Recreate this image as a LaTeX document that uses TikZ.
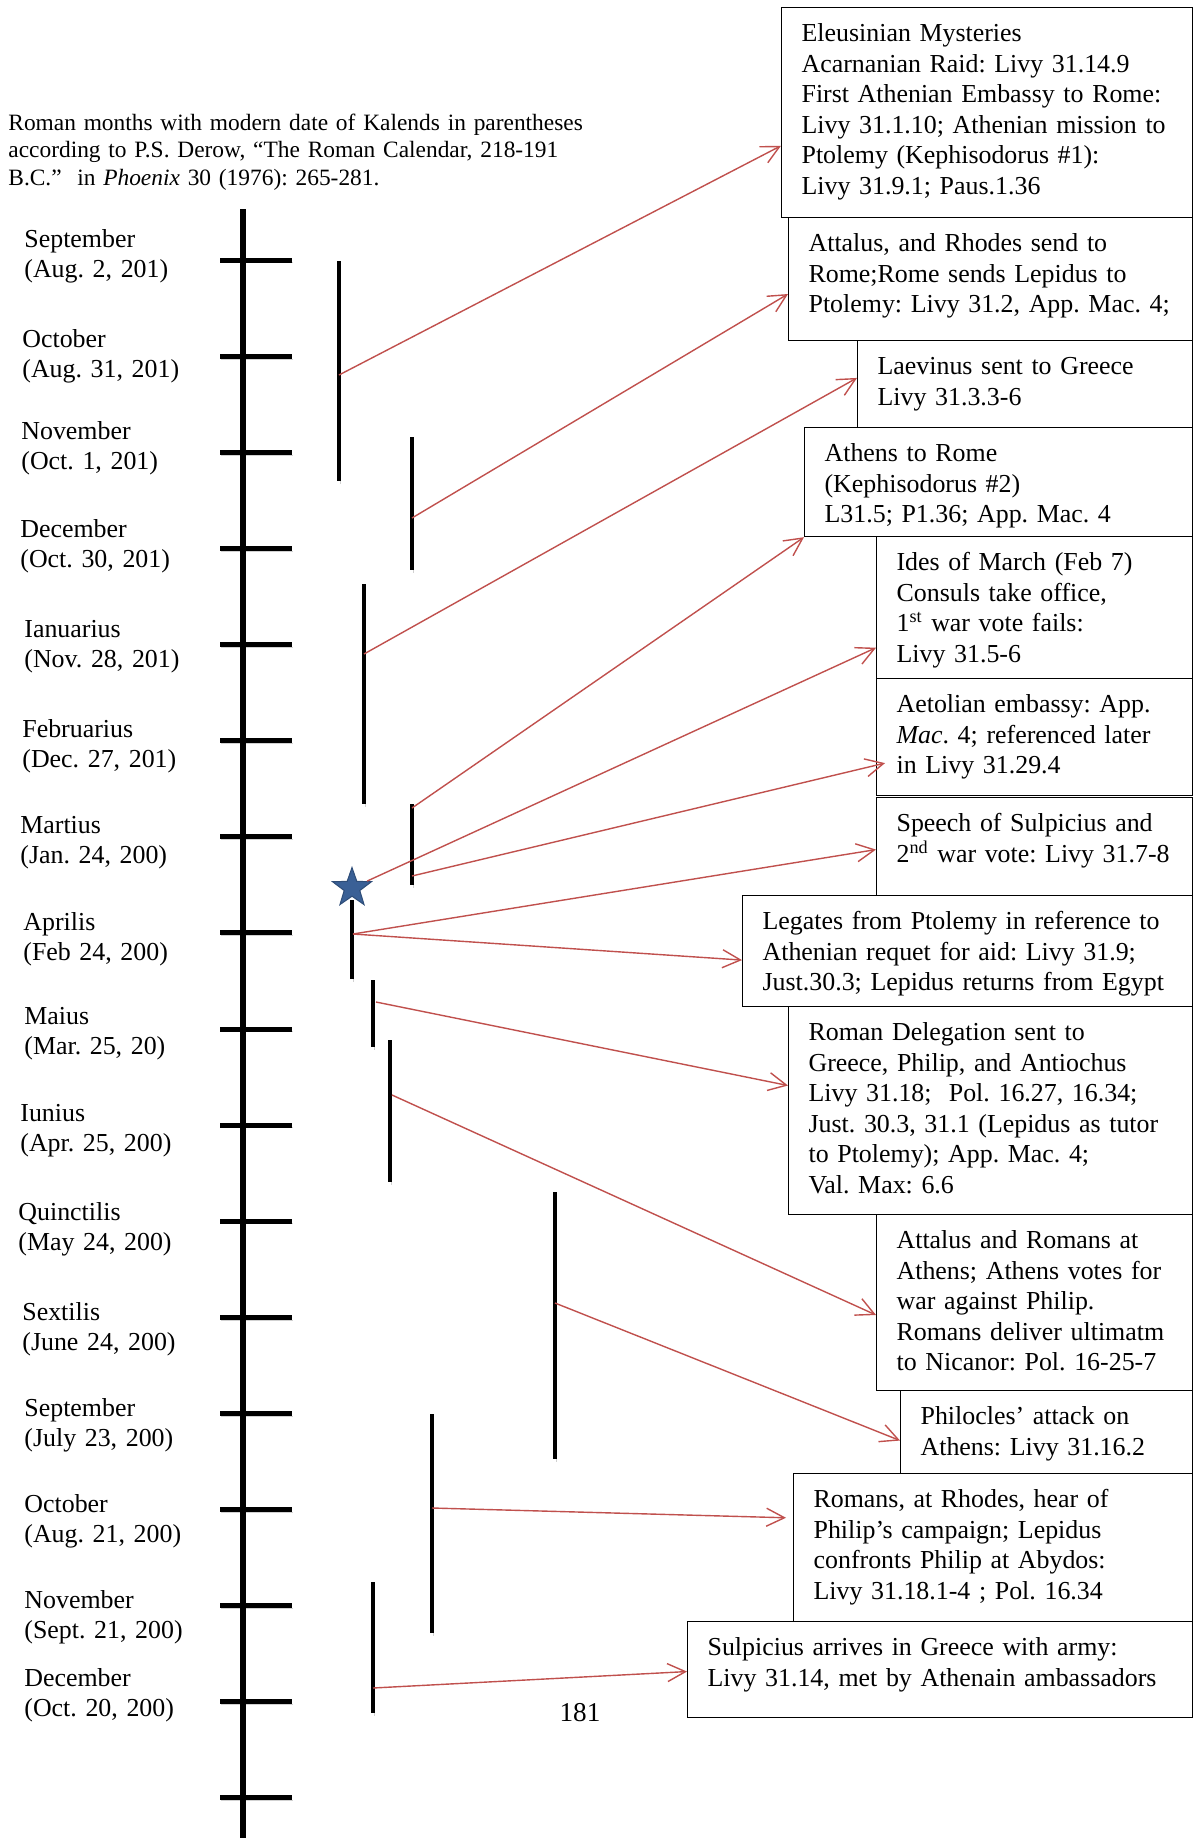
\documentclass[tikz,border=0pt]{standalone}
\usepackage{fontspec}
\setmainfont{Liberation Serif}
\usepackage{tikz}
\usetikzlibrary{calc}
\usetikzlibrary{arrows.meta}
\usetikzlibrary{shapes.geometric}
\frenchspacing

\definecolor{linkred}{RGB}{192,80,77}
\definecolor{starblue}{RGB}{58,96,150}
\newcommand{\evfont}{\fontsize{12.95}{15.25}\selectfont}
\newcommand{\notefont}{\fontsize{11.7}{13.75}\selectfont}

\tikzset{
  softshadow/.style={preaction={draw=black!18, transform canvas={shift={(0.6pt,-1.3pt)}}}},
  axisline/.style={line width=2.7pt},
  tickmark/.style={line width=2.5pt, softshadow},
  evbar/.style={line width=2.3pt, softshadow},
  evlink/.style={draw=linkred, line width=0.7pt, -{Straight Barb[length=9pt,width=9pt]}},
  evbox/.style 2 args={draw, line width=0.6pt, anchor=north west, align=left,
    inner xsep=10pt, inner ysep=0pt, text width=#1, text height=17pt, text depth=#2, font=\evfont},
  monthlbl/.style={anchor=north west, align=left, inner sep=0pt, text width=100pt,
    text height=9pt, font=\evfont},
  notelbl/.style={anchor=north west, align=left, inner sep=0pt, text width=300pt,
    text height=9pt, font=\notefont}
}

\begin{document}
\begin{tikzpicture}[x=0.5pt,y=-0.5pt]
\useasboundingbox (0,0) rectangle (1193,1838);

\node[notelbl] (note) at (8,112) {Roman months with modern date of Kalends in parentheses\\according to P.S. Derow, “The Roman Calendar, 218-191\\B.C.” \ in \textit{Phoenix} 30 (1976): 265-281.};

% time line
\foreach \k in {0,...,16}
  \draw[tickmark] (220,{260.2+96.1*\k}) -- (292,{260.2+96.1*\k});
\draw[axisline] (243,209) -- (243,1838);

\foreach \x/\y/\mon/\kal [count=\i] in {24/247/September/{(Aug. 2, 201)},
    22/347/October/{(Aug. 31, 201)}, 21/439/November/{(Oct. 1, 201)},
    20/537/December/{(Oct. 30, 201)}, 24/637/Ianuarius/{(Nov. 28, 201)},
    22/737/Februarius/{(Dec. 27, 201)}, 20/833/Martius/{(Jan. 24, 200)},
    23/930/Aprilis/{(Feb 24, 200)}, 24/1024/Maius/{(Mar. 25, 20)},
    20/1121/Iunius/{(Apr. 25, 200)}, 18/1220/Quinctilis/{(May 24, 200)},
    22/1320/Sextilis/{(June 24, 200)}, 24/1416/September/{(July 23, 200)},
    24/1512/October/{(Aug. 21, 200)}, 24/1608/November/{(Sept. 21, 200)},
    24/1686/December/{(Oct. 20, 200)}}
  \node[monthlbl] (m\i) at (\x,{\y-18}) {\mon\\\kal};

% events
\draw[evbar] (339,261) -- (339,481);
\draw[evbar] (412,437) -- (412,570);
\draw[evbar] (364,584) -- (364,804);
\draw[evbar] (412,804) -- (412,885);
\draw[evbar] (352,900) -- (352,979);
\draw[evbar] (373,980) -- (373,1047);
\draw[evbar] (390,1040) -- (390,1182);
\draw[evbar] (555,1192) -- (555,1459);
\draw[evbar] (432,1414) -- (432,1633);
\draw[evbar] (373,1582) -- (373,1713);

\coordinate (s1) at (339,375);
\coordinate (s2) at (412,518);
\coordinate (s3) at (364,654);
\coordinate (s4) at (412,808);
\coordinate (s6) at (412,876);
\coordinate (s7) at (353,934);
\coordinate (s9) at (376,1002);
\coordinate (s10) at (392,1095);
\coordinate (s11) at (555,1303);
\coordinate (s12) at (432,1508);
\coordinate (s13) at (373,1688);

\node[star, star points=5, star point ratio=2.5, minimum size=20.5pt, inner sep=0pt,
  fill=starblue, draw=starblue!80!black, line width=0.5pt] (star) at (352,888) {};

\node[evbox={185.5pt}{88pt}] (b1) at (781,7) {Eleusinian Mysteries\\Acarnanian Raid: Livy 31.14.9\\First Athenian Embassy to Rome:\\Livy 31.1.10; Athenian mission to\\Ptolemy (Kephisodorus \#1):\\Livy 31.9.1; Paus.1.36};
\node[evbox={182pt}{44.5pt}] (b2) at (788,217) {Attalus, and Rhodes send to\\Rome;Rome sends Lepidus to\\Ptolemy: Livy 31.2, App. Mac. 4;};
\node[evbox={147.5pt}{26.5pt}] (b3) at (857,340) {Laevinus sent to Greece\\Livy 31.3.3-6};
\node[evbox={174pt}{37.5pt}] (b4) at (804,427) {Athens to Rome\\(Kephisodorus \#2)\\L31.5; P1.36; App. Mac. 4};
\node[evbox={138pt}{54pt}] (b5) at (876,536) {Ides of March (Feb 7)\\Consuls take office,\\1\textsuperscript{st} war vote fails:\\Livy 31.5-6};
\node[evbox={138pt}{41.5pt}] (b6) at (876,678) {Aetolian embassy: App.\\\textit{Mac}. 4; referenced later\\in Livy 31.29.4};
\node[evbox={138pt}{32pt}] (b7) at (876,797) {Speech of Sulpicius and\\2\textsuperscript{nd} war vote: Livy 31.7-8};
\node[evbox={205pt}{38.5pt}] (b8) at (742,895) {Legates from Ptolemy in reference to\\Athenian requet for aid: Livy 31.9;\\Just.30.3; Lepidus returns from Egypt};
\node[evbox={182pt}{87pt}] (b9) at (788,1006) {Roman Delegation sent to\\Greece, Philip, and Antiochus\\Livy 31.18; \ Pol. 16.27, 16.34;\\Just. 30.3, 31.1 (Lepidus as tutor\\to Ptolemy); App. Mac. 4;\\Val. Max: 6.6};
\node[evbox={138pt}{71pt}] (b10) at (876,1214) {Attalus and Romans at\\Athens; Athens votes for\\war against Philip.\\Romans deliver ultimatm\\to Nicanor: Pol. 16-25-7};
\node[evbox={126pt}{24.5pt}] (b11) at (900,1390) {Philocles’ attack on\\Athens: Livy 31.16.2};
\node[evbox={179.5pt}{57pt}] (b12) at (793,1473) {Romans, at Rhodes, hear of\\Philip’s campaign; Lepidus\\confronts Philip at Abydos:\\Livy 31.18.1-4 ; Pol. 16.34};
\node[evbox={232.5pt}{31pt}] (b13) at (687,1621) {Sulpicius arrives in Greece with army:\\Livy 31.14, met by Athenain ambassadors};

\draw[evlink] (s1) -- ($(b1.north west)!0.657!(b1.south west)$);
\draw[evlink] (s2) -- ($(b2.north west)!0.62!(b2.south west)$);
\draw[evlink] (s3) -- ($(b3.north west)!0.43!(b3.south west)$);
\draw[evlink] (s4) -- (b4.south west);
\draw[evlink] (star) -- ($(b5.north west)!0.78!(b5.south west)$);
\draw[evlink] (s6) -- ($(b6.north west)!0.72!(b6.south west)+(9,0)$);
\draw[evlink] (s7) -- ($(b7.north west)!0.53!(b7.south west)$);
\draw[evlink] (s7) -- ($(b8.north west)!0.58!(b8.south west)$);
\draw[evlink] (s9) -- ($(b9.north west)!0.38!(b9.south west)$);
\draw[evlink] (s10) -- ($(b10.north west)!0.57!(b10.south west)$);
\draw[evlink] (s11) -- ($(b11.north west)!0.60!(b11.south west)$);
\draw[evlink] (s12) -- ($(b12.north west)!0.30!(b12.south west)+(-7,0)$);
\draw[evlink] (s13) -- ($(b13.north west)!0.52!(b13.south west)$);

\node[font=\fontsize{13.6}{16}\selectfont] (pg) at (580,1713) {181};
\end{tikzpicture}
\end{document}
